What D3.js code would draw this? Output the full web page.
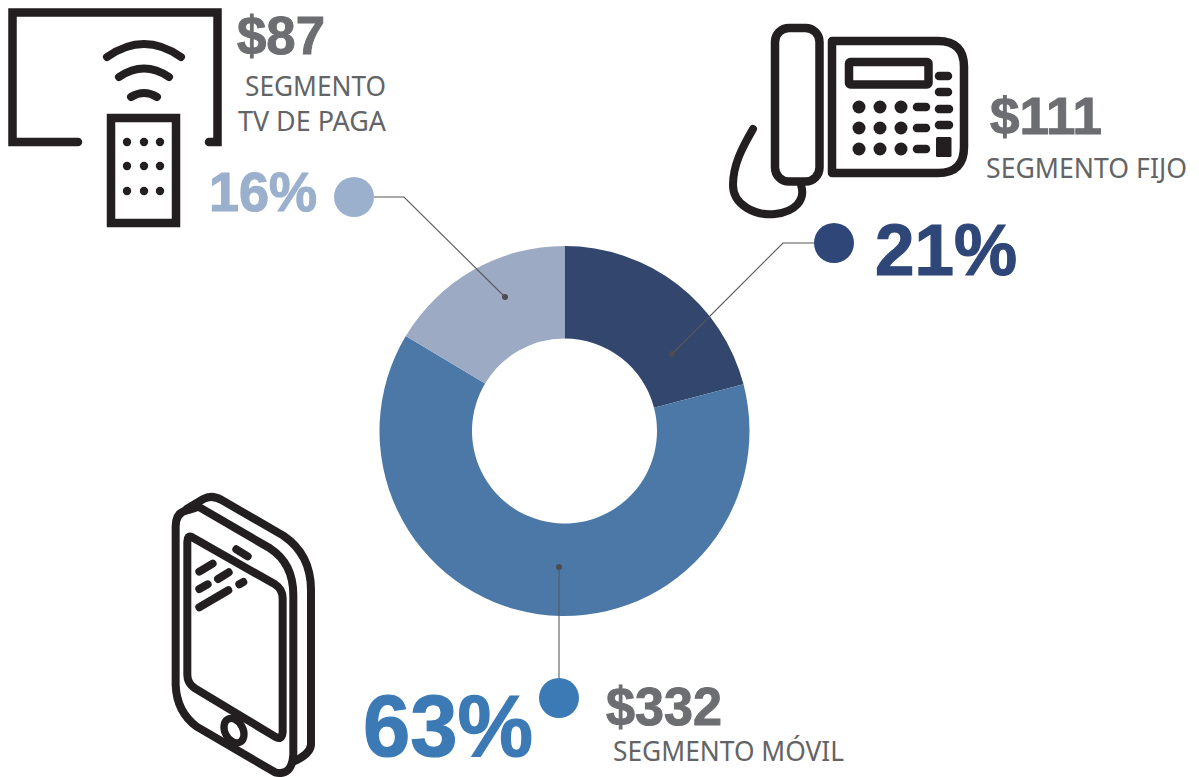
<!DOCTYPE html>
<html><head><meta charset="utf-8">
<style>html,body{margin:0;background:#fff}svg{display:block}</style>
<script src="https://cdn.jsdelivr.net/npm/d3@7/dist/d3.min.js"></script>
</head><body><svg id="c" width="1199" height="777"></svg>
<script>
const segments = ["SEGMENTO FIJO", "SEGMENTO MÓVIL", "SEGMENTO TV DE PAGA"];
const amounts = [111, 332, 87];
const shareLabels = ["21%", "63%", "16%"];
const amountLabels = ["$111", "$332", "$87"];

const sliceColors = ["#33466e", "#4b78a6", "#9caac4"];
const accentColors = ["#2f4778", "#3b7ab5", "#9bb0cd"];
const GREY = "#6d6e71", GREY2 = "#636466", INK = "#231f20";

// annotation layout, index-aligned with segments
const leaders = [
  {pts: [[815,243],[783,243],[672,354]], dot: [834,243]},
  {pts: [[559,678],[559,567]], dot: [559,698]},
  {pts: [[374,197],[404,197],[505,297]], dot: [354,197]}
];
const shareText = [
  {x: 875, y: 275, fs: 72, w: 142},
  {x: 363, y: 756, fs: 87, w: 170},
  {x: 209, y: 211, fs: 55, w: 108}
];
const amountText = [
  {x: 990, y: 134, fs: 51, w: 112},
  {x: 606, y: 725, fs: 53, w: 116},
  {x: 237, y: 54, fs: 54, w: 88}
];
const nameText = [
  [{t: "SEGMENTO FIJO", x: 986, y: 178, w: 201}],
  [{t: "SEGMENTO MÓVIL", x: 613, y: 761, w: 231}],
  [{t: "SEGMENTO", x: 245, y: 96, w: 141}, {t: "TV DE PAGA", x: 238, y: 131, w: 148}]
];

const svg = d3.select("#c");
const pie = d3.pie().sort(null)(amounts);
const arc = d3.arc().innerRadius(92.5).outerRadius(185);
svg.append("g").attr("transform", "translate(564.5,431)")
  .selectAll("path").data(pie).join("path")
  .attr("d", arc).attr("fill", (d, i) => sliceColors[i]);

// leaders
const line = d3.line();
leaders.forEach((l, i) => {
  svg.append("path").attr("d", line(l.pts)).attr("fill", "none").attr("stroke", "#58595b").attr("stroke-width", 1.1);
  const e = l.pts[l.pts.length - 1];
  svg.append("circle").attr("cx", e[0]).attr("cy", e[1]).attr("r", 3).attr("fill", "#4d4d4f");
  svg.append("circle").attr("cx", l.dot[0]).attr("cy", l.dot[1]).attr("r", 20).attr("fill", accentColors[i]);
});

function label(t, o, fill, weight, family, sw) {
  svg.append("text").attr("x", o.x).attr("y", o.y).attr("font-family", family)
    .attr("font-size", o.fs).attr("font-weight", weight).attr("fill", fill)
    .attr("stroke", sw ? fill : "none").attr("stroke-width", sw || 0)
    .attr("textLength", o.w).attr("lengthAdjust", "spacingAndGlyphs").text(t);
}
const BOLD = "'Liberation Sans', Arial, sans-serif", LIGHT = "'Noto Sans', 'Open Sans', sans-serif";
shareLabels.forEach((t, i) => label(t, shareText[i], accentColors[i], 700, BOLD, 1.2));
amountLabels.forEach((t, i) => label(t, amountText[i], GREY, 700, BOLD, 1));
nameText.forEach(rows => rows.forEach(r => label(r.t, {x: r.x, y: r.y, fs: 28, w: r.w}, GREY2, 400, LIGHT)));

// --- icons ---
function strokes(g, w, ds, cap) {
  ds.forEach(d => g.append("path").attr("d", d).attr("fill", "none").attr("stroke", INK)
    .attr("stroke-width", w).attr("stroke-linecap", cap || "round").attr("stroke-linejoin", "round"));
}
function dots(g, xs, ys, r) {
  ys.forEach(y => xs.forEach(x => g.append("circle").attr("cx", x).attr("cy", y).attr("r", r).attr("fill", INK)));
}
// TV
const tv = svg.append("g");
strokes(tv, 8.5, ["M78 142H12.5V12.5H217.5V142H209"]);
tv.select("path").attr("stroke-linejoin", "miter");
strokes(tv, 8, ["M107 57Q144 31 181 57", "M119 77Q144 60 169 77", "M131 97Q144 89 157 97"]);
tv.append("rect").attr("x", 111).attr("y", 118).attr("width", 65).attr("height", 105)
  .attr("fill", "#fff").attr("stroke", INK).attr("stroke-width", 8.5);
dots(tv, [127, 144, 160], [142, 166, 191], 4.2);

// Desk phone
const ph = svg.append("g");
ph.append("rect").attr("x", 775).attr("y", 28).attr("width", 44.5).attr("height", 153.5).attr("rx", 14)
  .attr("fill", "none").attr("stroke", INK).attr("stroke-width", 8.5);
strokes(ph, 8.5, ["M832 41H938Q964 41 964 67V147Q964 173 938 173H832Z"]);
ph.append("rect").attr("x", 849).attr("y", 62).attr("width", 79.5).attr("height", 22.5).attr("rx", 1.5)
  .attr("fill", "none").attr("stroke", INK).attr("stroke-width", 8.5);
dots(ph, [859, 880, 901], [107, 128, 149], 6.5);
strokes(ph, 8.5, ["M917 107H926", "M917 128H926", "M917 149H926", "M939 76H948", "M939 92H948", "M939 109H949", "M939 125H949"]);
ph.append("rect").attr("x", 936).attr("y", 137).attr("width", 15.5).attr("height", 20).attr("rx", 1.5).attr("fill", INK);
strokes(ph, 8, ["M753 129C742 148 733 165 733 185C733 205 755 216 775 214C795 212 806 200 801 185"]);

// Smartphone (drawn in a 3x grid)
const mob = svg.append("g").attr("transform", "translate(160,485) scale(0.3333)");
strokes(mob, 24, [
  "M115 65L330 190Q400 235 400 330V810Q395 875 345 862L110 725Q50 680 47 600V130Q45 80 85 75Q100 72 115 65",
  "M80 72L130 42Q155 28 185 45L370 152Q455 210 453 320V780Q450 808 400 830",
  "M95 156L345 298Q368 312 368 340V742Q365 768 345 755L105 610Q82 595 82 570V170Q82 150 95 156Z",
  "M229 193L263 214", "M118 260L158 236", "M174 282L206 262", "M118 312L143 298", "M238 298L250 291", "M118 367L205 316"
]);
mob.append("ellipse").attr("cx", 222).attr("cy", 737).attr("rx", 27).attr("ry", 39)
  .attr("transform", "rotate(-28 222 737)").attr("fill", "#fff").attr("stroke", INK).attr("stroke-width", 22);
</script></body></html>
